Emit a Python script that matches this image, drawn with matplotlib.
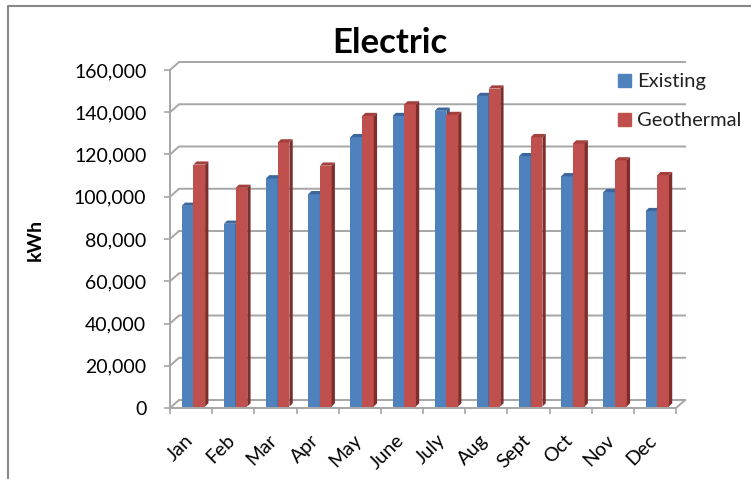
import matplotlib
matplotlib.use("Agg")
import matplotlib.pyplot as plt
import matplotlib.transforms as mtransforms
from matplotlib.patches import Polygon, Rectangle
from matplotlib.lines import Line2D

months = ["Jan", "Feb", "Mar", "Apr", "May", "June",
          "July", "Aug", "Sept", "Oct", "Nov", "Dec"]
existing = [95000, 86500, 108000, 100500, 127500, 137500,
            140000, 147000, 118500, 109000, 101500, 92500]
geothermal = [114500, 103500, 125000, 114000, 137500, 143000,
              138000, 150500, 127500, 124500, 116500, 109500]
yticks = list(range(0, 160001, 20000))

W, H = 751, 479
plt.rcParams['font.family'] = ['Lato', 'DejaVu Sans']

fig = plt.figure(figsize=(W / 100, H / 100), dpi=100)

# front plane of the plot in pixels
x0_px, x1_px = 170, 676
y0_px, y1_px = 408, 70
ax = fig.add_axes([x0_px / W, 1 - y0_px / H, (x1_px - x0_px) / W, (y0_px - y1_px) / H])
ax.set_xlim(0, 12)
ax.set_ylim(0, 160000)
for s in ax.spines.values():
    s.set_visible(False)

px_x = 12 / (x1_px - x0_px)          # data units per pixel
px_y = 160000 / (y0_px - y1_px)

grid_c = "#a6a6a6"
back_dx, back_dy = 9 * px_x, 8 * px_y

# back wall gridlines + floor
for v in yticks:
    ax.add_line(Line2D([0, back_dx, 12 + back_dx], [v, v + back_dy, v + back_dy],
                       color=grid_c, lw=1.4, clip_on=False, zorder=1))
ax.add_line(Line2D([0, 0], [0, 160000], color=grid_c, lw=1.4, clip_on=False, zorder=1))
ax.add_line(Line2D([0, 12, 12 + back_dx], [0, 0, back_dy], color=grid_c, lw=1.4,
                   clip_on=False, zorder=1))

# bars with a little depth
bw = 11.7 * px_x
base = 1.5 * px_y
ddx, ddy = 3.3 * px_x, 3.2 * px_y
series = [(existing, "#4f81bd", "#3b679c", "#2f5383", 11.7),
          (geothermal, "#c0504d", "#a33f3c", "#7f2d2b", 23.4)]
for vals, front, top, side, off in series:
    for i, v in enumerate(vals):
        xl = i + off * px_x
        ax.bar(xl, v, width=bw, bottom=base, align="edge", color=front,
               linewidth=0, zorder=3)
        yt = base + v
        ax.add_patch(Polygon([(xl, yt), (xl + bw, yt), (xl + bw + ddx, yt + ddy),
                              (xl + ddx, yt + ddy)], closed=True, color=top,
                             lw=0, zorder=3, clip_on=False))
        ax.add_patch(Polygon([(xl + bw, base), (xl + bw, yt), (xl + bw + ddx, yt + ddy),
                              (xl + bw + ddx, base + ddy)], closed=True, color=side,
                             lw=0, zorder=3, clip_on=False))

# axes ticks and labels
ax.set_yticks(yticks)
ax.set_yticklabels([f"{v:,}" for v in yticks])
ax.tick_params(axis="y", length=4, width=1.2, color=grid_c, pad=13, labelsize=14)
ax.set_xticks([i + 0.5 for i in range(12)])
ax.set_xticklabels(months, rotation=45, ha="right", va="top", fontsize=14)
ax.tick_params(axis="x", length=0, pad=17)
shift = mtransforms.ScaledTranslation(5 / 100, 0, fig.dpi_scale_trans)
for lab in ax.get_xticklabels():
    lab.set_transform(lab.get_transform() + shift)
ax.set_xticks(range(13), minor=True)
ax.tick_params(axis="x", which="minor", length=4, width=1.2, color=grid_c)

fig.text(35 / W, 1 - 240 / H, "kWh", rotation=90, ha="center", va="center",
         fontsize=14, fontweight="bold")
fig.text(390 / W, 1 - 53.3 / H, "Electric", ha="center", va="baseline",
         fontsize=25, fontweight="bold")

# legend
for lab, col, yb in [("Existing", "#4f81bd", 86.5), ("Geothermal", "#c0504d", 125.5)]:
    fig.patches.append(Rectangle((618 / W, 1 - yb / H), 13 / W, 12.5 / H,
                                 transform=fig.transFigure, color=col))
    fig.text(637 / W, 1 - yb / H, lab, ha="left", va="baseline", fontsize=14.5,
             color="#222222")

# outer chart border (cut off at right and bottom)
fig.add_artist(Line2D([8 / W, 8 / W, 1], [0, 1 - 6 / H, 1 - 6 / H],
                      transform=fig.transFigure, color="#888888", lw=1.5))

fig.savefig("out.png", dpi=100)
